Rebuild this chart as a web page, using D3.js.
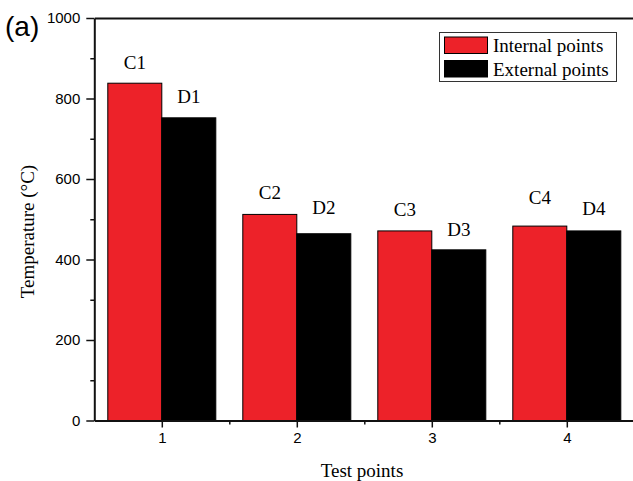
<!DOCTYPE html>
<html><head><meta charset="utf-8">
<script src="https://cdn.jsdelivr.net/npm/d3@7"></script>
<style>body{margin:0;background:#fff;overflow:hidden}svg{display:block}</style>
</head><body><svg id="c" width="633" height="481"></svg>
<script>
const categories = [1, 2, 3, 4];
const internalValues = [838, 512, 471, 483];
const externalValues = [752, 464, 424, 471];
const internalLabels = ["C1", "C2", "C3", "C4"];
const externalLabels = ["D1", "D2", "D3", "D4"];
const yTicks = [0, 200, 400, 600, 800, 1000];
const yMinor = [100, 300, 500, 700, 900];
const xMinor = [1.5, 2.5, 3.5];
const seriesNames = ["Internal points", "External points"];
const seriesColors = ["#ED2229", "#000000"];
const internalLift = [14, 15, 15, 22];
const externalLift = [15, 20, 14, 16];

const svg = d3.select("#c");
const x = d3.scaleLinear().domain([0.5, 4.5]).range([94.3, 634.3]);
const y = d3.scaleLinear().domain([0, 1000]).range([420.5, 18]);
const bw = 0.4;

const sans = "'Liberation Sans', Arial, sans-serif";
const serif = "'Liberation Serif', 'Times New Roman', serif";

// bars
const g = svg.append("g");
categories.forEach((c, i) => {
  g.append("rect").attr("x", x(c - bw)).attr("width", x(c) - x(c - bw))
    .attr("y", y(internalValues[i])).attr("height", y(0) - y(internalValues[i]))
    .attr("fill", seriesColors[0]).attr("stroke", "#000").attr("stroke-width", 1);
  g.append("rect").attr("x", x(c)).attr("width", x(c + bw) - x(c))
    .attr("y", y(externalValues[i])).attr("height", y(0) - y(externalValues[i]))
    .attr("fill", seriesColors[1]).attr("stroke", "#000").attr("stroke-width", 1);
  g.append("text").attr("x", x(c - bw / 2)).attr("y", y(internalValues[i]) - internalLift[i])
    .attr("text-anchor", "middle").attr("font-family", serif).attr("font-size", 19)
    .text(internalLabels[i]);
  g.append("text").attr("x", x(c + bw / 2)).attr("y", y(externalValues[i]) - externalLift[i])
    .attr("text-anchor", "middle").attr("font-family", serif).attr("font-size", 19)
    .text(externalLabels[i]);
});

// y axis
svg.append("g").attr("transform", `translate(${x(0.5)},0)`)
  .call(d3.axisLeft(y).tickValues(yTicks).tickSize(8).tickSizeOuter(0).tickPadding(6).tickFormat(d3.format("d")));
svg.append("g").attr("transform", `translate(${x(0.5)},0)`)
  .call(d3.axisLeft(y).tickValues(yMinor).tickSize(4).tickFormat(""))
  .select(".domain").remove();

// x axis
svg.append("g").attr("transform", `translate(0,${y(0)})`)
  .call(d3.axisBottom(x).tickValues(categories).tickSize(7).tickSizeOuter(0).tickPadding(5).tickFormat(d3.format("d")));
svg.append("g").attr("transform", `translate(0,${y(0)})`)
  .call(d3.axisBottom(x).tickValues(xMinor).tickSize(4).tickFormat(""))
  .select(".domain").remove();

// top axis line
svg.append("g").attr("transform", `translate(0,${y(1000)})`)
  .call(d3.axisTop(x).tickValues([]).tickSizeOuter(0));

svg.selectAll(".domain").attr("stroke", "#111").attr("stroke-width", 2);
svg.selectAll(".tick line").attr("stroke", "#111").attr("stroke-width", 1.5);
svg.selectAll(".tick text").attr("font-family", sans).attr("font-size", 15).attr("fill", "#000");

// axis titles
svg.append("text").attr("transform", "translate(34,231.5) rotate(-90)")
  .attr("text-anchor", "middle").attr("font-family", serif).attr("font-size", 19)
  .text("Temperature (°C)");
svg.append("text").attr("x", 362).attr("y", 477)
  .attr("text-anchor", "middle").attr("font-family", serif).attr("font-size", 19)
  .text("Test points");

// panel label
svg.append("text").attr("x", 5).attr("y", 36).attr("font-family", sans).attr("font-size", 28)
  .text("(a)");

// legend
const lg = svg.append("g");
lg.append("rect").attr("x", 439.5).attr("y", 32.5).attr("width", 177).attr("height", 49)
  .attr("fill", "#fff").attr("stroke", "#333").attr("stroke-width", 1);
seriesNames.forEach((n, i) => {
  lg.append("rect").attr("x", 444.5).attr("y", 37 + i * 23.5).attr("width", 43).attr("height", 16.5)
    .attr("fill", seriesColors[i]).attr("stroke", "#000").attr("stroke-width", 1);
  lg.append("text").attr("x", 493).attr("y", 52 + i * 23.5).attr("font-family", serif)
    .attr("font-size", 19).text(n);
});
</script></body></html>
